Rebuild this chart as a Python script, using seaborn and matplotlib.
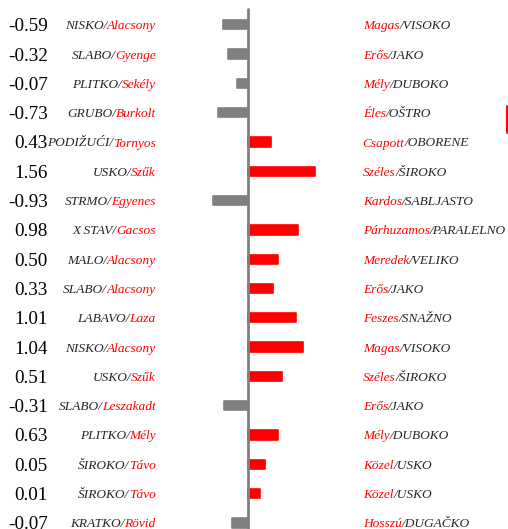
import pandas as pd
import matplotlib
matplotlib.use("Agg")
import matplotlib.pyplot as plt
import matplotlib.transforms as mtransforms
from matplotlib.lines import Line2D
import seaborn as sns

scores = [-0.59, -0.32, -0.07, -0.73, 0.43, 1.56, -0.93, 0.98, 0.50,
          0.33, 1.01, 1.04, 0.51, -0.31, 0.63, 0.05, 0.01, -0.07]
# bar lengths as drawn in the picture (not exactly the printed scores)
bar_len = [-0.59, -0.47, -0.26, -0.71, 0.53, 1.55, -0.81, 1.15, 0.69,
           0.58, 1.11, 1.28, 0.78, -0.57, 0.69, 0.38, 0.27, -0.38]
left_black = ["NISKO/", "SLABO/", "PLITKO/", "GRUBO/", "PODIŽUĆI/", "USKO/",
              "STRMO/", "X STAV/", "MALO/", "SLABO/", "LABAVO/", "NISKO/",
              "USKO/", "SLABO/", "PLITKO/", "ŠIROKO/", "ŠIROKO/", "KRATKO/"]
left_red = ["Alacsony", "Gyenge", "Sekély", "Burkolt", "Tornyos", "Szűk",
            "Egyenes", "Gacsos", "Alacsony", "Alacsony", "Laza", "Alacsony",
            "Szűk", "Leszakadt", "Mély", "Távo", "Távo", "Rövid"]
right_red = ["Magas", "Erős", "Mély", "Éles", "Csapott", "Széles", "Kardos",
             "Párhuzamos", "Meredek", "Erős", "Feszes", "Magas", "Széles",
             "Erős", "Mély", "Közel", "Közel", "Hosszú"]
right_black = ["/VISOKO", "/JAKO", "/DUBOKO", "/OŠTRO", "/OBORENE", "/ŠIROKO",
               "/SABLJASTO", "/PARALELNO", "/VELIKO", "/JAKO", "/SNAŽNO",
               "/VISOKO", "/ŠIROKO", "/JAKO", "/DUBOKO", "/USKO", "/USKO",
               "/DUGAČKO"]

RED = "#ff0000"
GRAY = "#808080"
DARK = "#262626"

sns.set_style("white")
plt.rcParams["font.family"] = ["Liberation Serif", "DejaVu Serif"]

df = pd.DataFrame({
    "row": list(range(len(scores))),
    "bar": bar_len,
})
df["sign"] = ["pos" if b > 0 else "neg" for b in df["bar"]]

fig = plt.figure(figsize=(5.08, 5.29), dpi=100)
ax = fig.add_axes([0, 0, 1, 1])

sns.barplot(data=df, x="bar", y="row", hue="sign", orient="h",
            palette={"pos": RED, "neg": GRAY}, width=0.32, dodge=False,
            saturation=1, legend=False, ax=ax, linewidth=1.2)
for p in ax.patches:
    p.set_edgecolor(p.get_facecolor())
    p.set_joinstyle("round")

# pixel geometry -> data limits
cx, ppu = 248.3, 43.0
row0, rstep = 24.8, 29.3
ax.set_xlim(-cx / ppu, (508 - cx) / ppu)
ax.set_ylim(len(scores) - 1 + (529 - (row0 + rstep * 17)) / rstep, -row0 / rstep)
ax.axis("off")

ax.axvline(0, ymin=0, ymax=1 - 9 / 529, color=GRAY, lw=2.0, zorder=5)

x_num = (47.7 - cx) / ppu
x_left = (155.7 - cx) / ppu
x_right = (362.7 - cx) / ppu

renderer = fig.canvas.get_renderer()
lab_kw = dict(fontsize=9.6, style="italic", va="center_baseline")

for i, v in enumerate(scores):
    ax.text(x_num, i, f"{v:.2f}", ha="right", va="center_baseline",
            fontsize=13.8, color="black")

    t = ax.text(x_left, i, left_red[i], ha="right", color=RED, **lab_kw)
    w = t.get_window_extent(renderer).width - 0.5
    tr = mtransforms.offset_copy(ax.transData, fig=fig, x=-w, y=0, units="dots")
    ax.text(x_left, i, left_black[i], ha="right", color=DARK, transform=tr, **lab_kw)

    t = ax.text(x_right, i, right_red[i], ha="left", color=RED, **lab_kw)
    w = t.get_window_extent(renderer).width
    tr = mtransforms.offset_copy(ax.transData, fig=fig, x=w, y=0, units="dots")
    ax.text(x_right, i, right_black[i], ha="left", color=DARK, transform=tr, **lab_kw)

# small red marker at the right edge
fig.add_artist(Line2D([506.7 / 508, 506.7 / 508], [1 - 105.7 / 529, 1 - 132.7 / 529],
                      transform=fig.transFigure, color=RED, lw=1.4))

fig.savefig("out.png", dpi=100)
